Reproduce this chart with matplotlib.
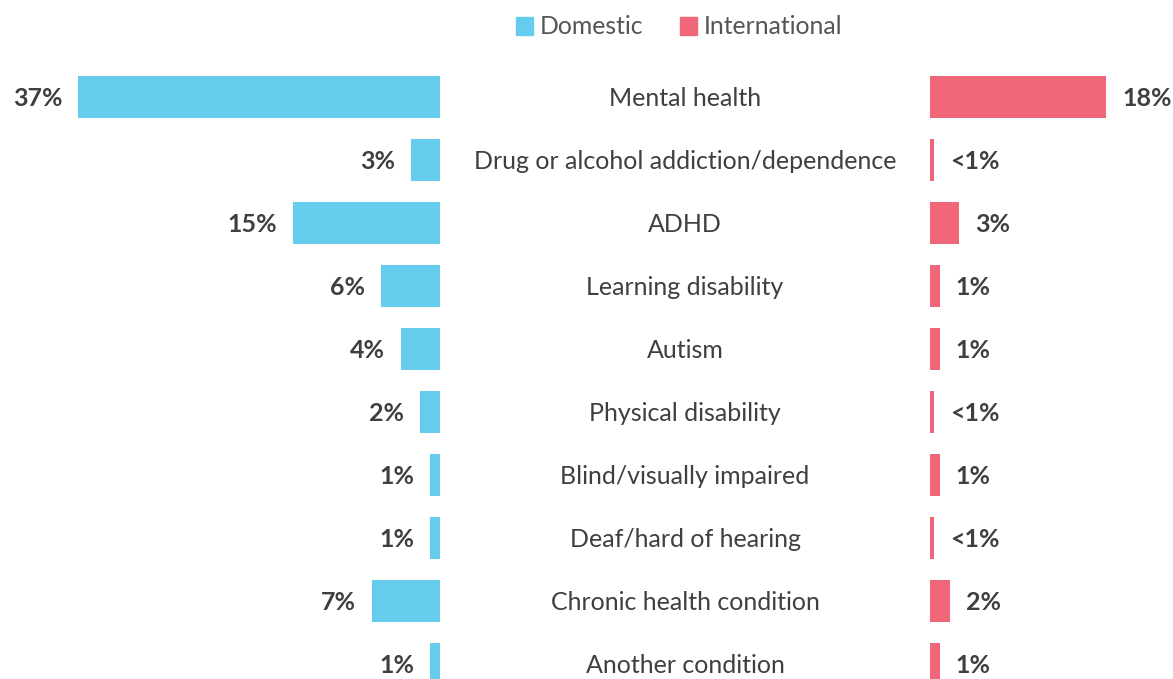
import matplotlib.pyplot as plt
from matplotlib.patches import Patch

categories = ["Mental health", "Drug or alcohol addiction/dependence", "ADHD",
              "Learning disability", "Autism", "Physical disability",
              "Blind/visually impaired", "Deaf/hard of hearing",
              "Chronic health condition", "Another condition"]
domestic = [37, 3, 15, 6, 4, 2, 1, 1, 7, 1]
domestic_labels = ["37%", "3%", "15%", "6%", "4%", "2%", "1%", "1%", "7%", "1%"]
international = [18, 0.45, 3, 1, 1, 0.45, 1, 0.45, 2, 1]
international_labels = ["18%", "<1%", "3%", "1%", "1%", "<1%", "1%", "<1%", "2%", "1%"]

blue = "#66ccee"
red = "#f0677a"
txt = "#3f3f3f"
plt.rcParams['font.family'] = ['Lato', 'DejaVu Sans']

W, H = 1173, 679
fig = plt.figure(figsize=(W / 100, H / 100), dpi=100)

top_px, bot_px = 65.5, 695.5
y0 = 1 - bot_px / H
h = (bot_px - top_px) / H

# left axes: 0..440 px, right axes: 930..1173 px
axl = fig.add_axes([0, y0, 440 / W, h])
axr = fig.add_axes([930 / W, y0, (W - 930) / W, h])
scale = 440 / 45.0  # px per percent

n = len(categories)
ys = list(range(n))
axl.barh(ys, domestic, height=0.66, color=blue)
axl.set_xlim(45, 0)
axr.barh(ys, international, height=0.66, color=red)
axr.set_xlim(0, (W - 930) / scale)

for ax in (axl, axr):
    ax.set_ylim(n - 0.5, -0.5)
    ax.axis("off")

pad = 16 / scale
for y, v, lab in zip(ys, domestic, domestic_labels):
    axl.text(v + pad, y + 0.02, lab, ha="right", va="center", fontsize=18,
             fontweight="bold", color=txt)
for y, v, lab in zip(ys, international, international_labels):
    axr.text(v + pad, y + 0.02, lab, ha="left", va="center", fontsize=18,
             fontweight="bold", color=txt)

# category labels in the middle
for y, c in zip(ys, categories):
    yf = y0 + h * (1 - (y + 0.5) / n) - 1.5 / H
    fig.text(685 / W, yf, c, ha="center", va="center", fontsize=18, color=txt)

handles = [Patch(color=blue, label="Domestic"), Patch(color=red, label="International")]
fig.legend(handles=handles, loc="center", bbox_to_anchor=(679 / W, 1 - 27 / H), ncol=2,
           frameon=False, fontsize=17.8, handlelength=0.7, handleheight=0.7,
           handletextpad=0.25, columnspacing=1.5, labelcolor="#555555")

fig.savefig("out.png", dpi=100)
